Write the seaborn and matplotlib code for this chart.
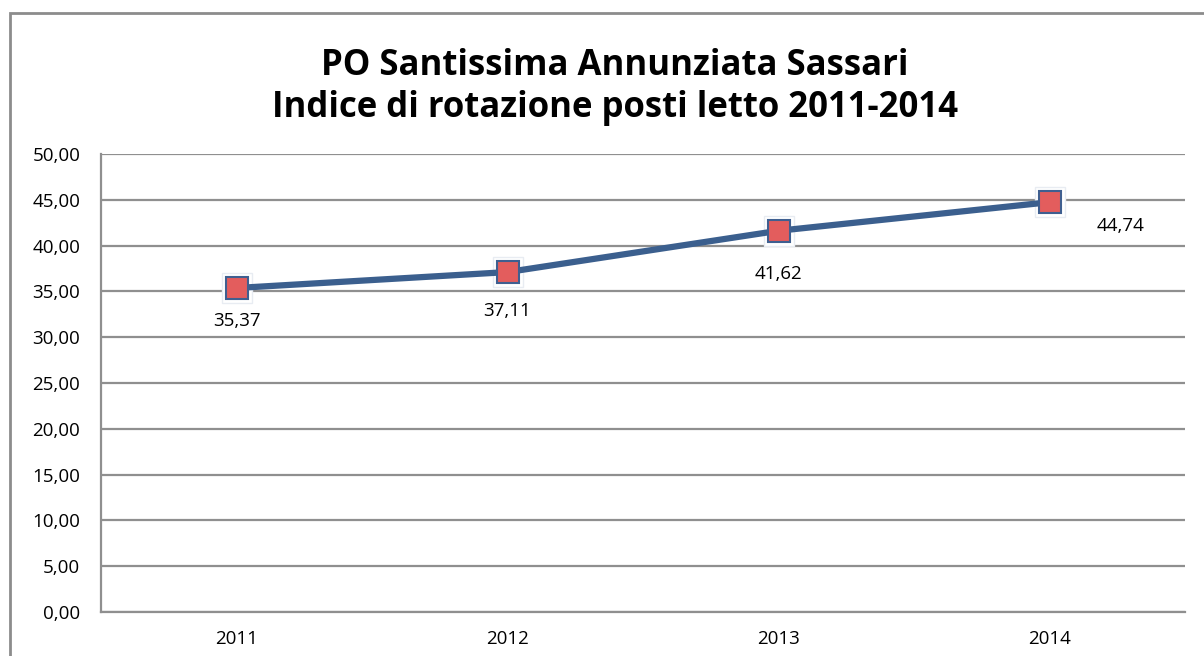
import seaborn as sns
import pandas as pd
import matplotlib.pyplot as plt
from matplotlib.patches import Rectangle

anni = ["2011", "2012", "2013", "2014"]
indice = [35.37, 37.11, 41.62, 44.74]
etichette = ["35,37", "37,11", "41,62", "44,74"]
yticks = [0, 5, 10, 15, 20, 25, 30, 35, 40, 45, 50]
titolo = "PO Santissima Annunziata Sassari\nIndice di rotazione posti letto 2011-2014"

df = pd.DataFrame({"anno": anni, "indice": indice})

sns.set_style("white")
plt.rcParams["font.family"] = ["Open Sans", "DejaVu Sans"]

fig = plt.figure(figsize=(12.04, 6.56), dpi=100)
ax = fig.add_axes([101 / 1204, 1 - 612 / 656, 1084 / 1204, 458 / 656])

# outer chart frame
fig.patches.append(Rectangle((10 / 1204, -0.05), 1.1, 1 - 13 / 656 + 0.05,
                             transform=fig.transFigure, fill=False,
                             edgecolor="#8c8c8c", linewidth=2))

ax.set_ylim(0, 50)
ax.set_xlim(-0.5, 3.5)
ax.set_yticks(yticks)
ax.set_yticklabels([f"{v:.2f}".replace(".", ",") for v in yticks])
ax.yaxis.grid(True, color="#8f8f8f", linewidth=1.6)
ax.set_axisbelow(True)

# white halo behind markers
ax.plot(range(len(anni)), indice, linestyle="none", marker="s",
        markersize=21, markerfacecolor="white", markeredgecolor="#e8ecf2",
        markeredgewidth=1, zorder=3)
sns.lineplot(data=df, x="anno", y="indice", ax=ax, color="#3b5f8e",
             linewidth=4.5, marker="s", markersize=16,
             markerfacecolor="#e35d5d", markeredgecolor="#3f5f90",
             markeredgewidth=1.5, zorder=4)

offsets = [(0, -24), (0, -28), (0, -31), (51, -17)]
for i, (lab, off) in enumerate(zip(etichette, offsets)):
    ax.annotate(lab, (i, indice[i]), xytext=off, textcoords="offset points",
                ha="center", va="center", fontsize=13.5, color="black")

for s in ["top", "right"]:
    ax.spines[s].set_visible(False)
for s in ["left", "bottom"]:
    ax.spines[s].set_color("#8f8f8f")
    ax.spines[s].set_linewidth(1.6)
ax.tick_params(axis="both", length=0, labelsize=13.5, pad=15,
               labelcolor="black")
ax.tick_params(axis="x", pad=13)
ax.set_xlabel("")
ax.set_ylabel("")

fig.text(0.511, 1 - 87 / 656, titolo, ha="center", va="center",
         fontsize=25, fontweight="bold", linespacing=1.2, color="black")

fig.savefig("out.png", dpi=100)
